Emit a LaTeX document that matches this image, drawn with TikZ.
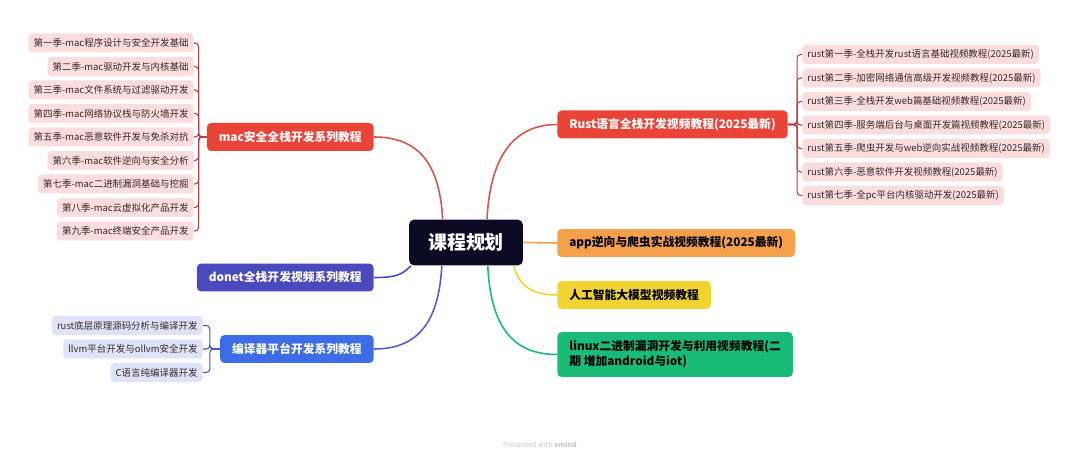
\documentclass[tikz,border=0pt]{standalone}
\usepackage{fontspec}
\setmainfont{Noto Sans CJK SC}
\definecolor{HubNavy}{RGB}{11,11,38}
\definecolor{BranchRed}{RGB}{234,67,55}
\definecolor{LineRed}{RGB}{214,84,76}
\definecolor{StubRed}{RGB}{176,66,66}
\definecolor{LeafPink}{RGB}{252,221,221}
\definecolor{LeafBlue}{RGB}{222,227,250}
\definecolor{DonetPurple}{RGB}{74,74,190}
\definecolor{CompBlue}{RGB}{60,108,232}
\definecolor{LineBlue}{RGB}{88,92,200}
\definecolor{StubBlue}{RGB}{70,86,176}
\definecolor{AppOrange}{RGB}{245,160,75}
\definecolor{AiYellow}{RGB}{241,211,52}
\definecolor{LinuxGreen}{RGB}{24,188,120}
\definecolor{LeafText}{RGB}{55,40,40}
\usetikzlibrary{positioning}
\tikzset{
  hub/.style={fill=HubNavy,text=white,rounded corners=3pt,minimum height=0.92cm,
    inner xsep=0.38cm,font=\fontsize{10.8}{12}\selectfont\bfseries},
  branch/.style={rounded corners=2.5pt,minimum height=0.56cm,inner xsep=0.24cm,
    font=\fontsize{6.7}{8.5}\selectfont\bfseries},
  leaf/.style={rounded corners=2pt,minimum height=0.38cm,inner xsep=0.1cm,inner ysep=0pt,
    text=LeafText,font=\fontsize{5.4}{6.5}\selectfont},
  link/.style={line width=0.9pt},
  stub/.style={line width=0.6pt,rounded corners=2pt}
}

\begin{document}
\begin{tikzpicture}[x=0.02cm,y=-0.02cm]
\useasboundingbox (0,0) rectangle (1080,459);
\node[hub] (hub) at (466,242.5) {课程规划};
% left branches
\node[branch,fill=BranchRed,text=white,anchor=east] (mac) at (374,137) {mac安全全栈开发系列教程};
\node[branch,fill=DonetPurple,text=white,anchor=east] (donet) at (374,277.5) {donet全栈开发视频系列教程};
\node[branch,fill=CompBlue,text=white,anchor=east] (comp) at (374,349) {编译器平台开发系列教程};
% right branches
\node[branch,fill=BranchRed,text=white,anchor=west] (rust) at (557,124.5) {Rust语言全栈开发视频教程(2025最新)};
\node[branch,fill=AppOrange,text=black,anchor=west] (app) at (557,243) {app逆向与爬虫实战视频教程(2025最新)};
\node[branch,fill=AiYellow,text=black,anchor=west] (ai) at (557,295) {人工智能大模型视频教程};
\node[branch,fill=LinuxGreen,text=black,anchor=west,align=left,minimum height=0.9cm] (linux) at (557,354.5)
  {linux二进制漏洞开发与利用视频教程(二\\期 增加android与iot)};

% curves out of the hub
\draw[link,LineRed] (hub.135) .. controls +(-3,-55) and +(45,0) .. (mac.east);
\draw[link,LineRed] (hub.48) .. controls +(3,-60) and +(-45,0) .. (rust.west);
\draw[link,DonetPurple] (hub.203) .. controls +(-10,10) and +(20,0) .. (donet.east);
\draw[link,LineBlue] (hub.224) .. controls +(-3,55) and +(45,0) .. (comp.east);
\draw[link,AppOrange] (hub.east) -- (app.west);
\draw[link,AiYellow] (hub.334) .. controls +(5,20) and +(-25,0) .. (ai.west);
\draw[link,LinuxGreen] (hub.313) .. controls +(3,60) and +(-45,0) .. (linux.west);

% mac seasons
\foreach \t [count=\i] in {{第一季-mac程序设计与安全开发基础},{第二季-mac驱动开发与内核基础},
  {第三季-mac文件系统与过滤驱动开发},{第四季-mac网络协议栈与防火墙开发},
  {第五季-mac恶意软件开发与免杀对抗},{第六季-mac软件逆向与安全分析},
  {第七季-mac二进制漏洞基础与挖掘},{第八季-mac云虚拟化产品开发},{第九季-mac终端安全产品开发}}{
  \node[leaf,fill=LeafPink,anchor=east] (m\i) at (194,{43+23.5*(\i-1)}) {\t};
  \draw[stub,StubRed] (mac.west) -- ++(-8,0) |- (m\i.east);
}
% rust seasons
\foreach \t [count=\i] in {{rust第一季-全栈开发rust语言基础视频教程(2025最新)},
  {rust第二季-加密网络通信高级开发视频教程(2025最新)},{rust第三季-全栈开发web篇基础视频教程(2025最新)},
  {rust第四季-服务端后台与桌面开发篇视频教程(2025最新)},{rust第五季-爬虫开发与web逆向实战视频教程(2025最新)},
  {rust第六季-恶意软件开发视频教程(2025最新)},{rust第七季-全pc平台内核驱动开发(2025最新)}}{
  \node[leaf,fill=LeafPink,anchor=west] (r\i) at (802,{54.5+23.5*(\i-1)}) {\t};
  \draw[stub,StubRed] (rust.east) -- ++(9,0) |- (r\i.west);
}
% compiler topics
\foreach \t [count=\i] in {{rust底层原理源码分析与编译开发},{llvm平台开发与ollvm安全开发},{C语言纯编译器开发}}{
  \node[leaf,fill=LeafBlue,anchor=east] (c\i) at (203,{325.5+23.5*(\i-1)}) {\t};
  \draw[stub,StubBlue] (comp.west) -- ++(-10,0) |- (c\i.east);
}

\node[text=black!22,font=\fontsize{4}{5}\selectfont] (credit) at (540,445) {Presented with \textbf{xmind}};
\end{tikzpicture}
\end{document}
